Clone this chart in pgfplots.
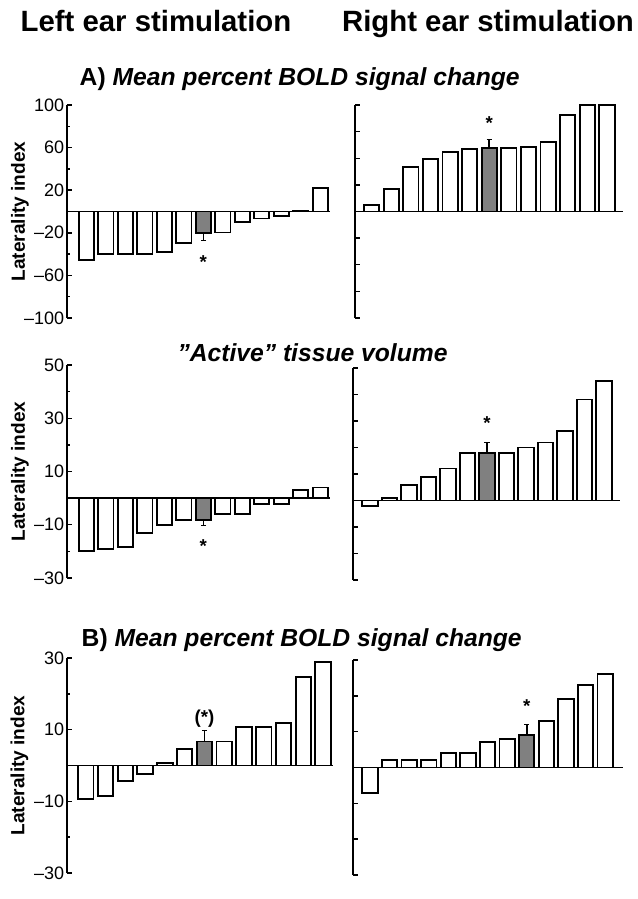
\documentclass[border=0pt]{standalone}
\usepackage{pgfplots}
\pgfplotsset{compat=1.18}
\usepackage{fontspec}
\setmainfont{Liberation Sans}
\definecolor{bargray}{HTML}{808080}

\pgfplotsset{
  lat/.style={
    scale only axis, anchor=south west,
    axis y line=left, axis x line=middle,
    axis line style={-, line width=1.4pt, black},
    x axis line style={line width=1.1pt},
    xtick=\empty,
    ybar, bar width=0.78, bar shift=0pt,
    tick align=inside, major tick length=4pt, minor tick length=2.5pt,
    tick style={black, line width=1.1pt},
    yticklabel style={font=\fontsize{13.5}{14}\selectfont, inner sep=2pt},
    every axis y label/.style={at={(axis description cs:-0.179,0.5)}, rotate=90,
      anchor=center, font=\bfseries\fontsize{14.3}{15}\selectfont},
    error bars/error bar style={line width=1.3pt, black},
    clip=false,
  },
  wbar/.style={draw=black, fill=white, line width=1.4pt},
  gbar/.style={draw=black, fill=bargray, line width=1.4pt},
}
\tikzset{star/.style={anchor=base, font=\bfseries\fontsize{14}{14}\selectfont}}

\begin{document}
\begin{tikzpicture}
\path[use as bounding box] (0,0) rectangle (478.5pt,-674.25pt);

\node[anchor=base, font=\bfseries\fontsize{22}{22}\selectfont] at (117pt,-23.8pt) {Left ear stimulation};
\node[anchor=base, font=\bfseries\fontsize{22}{22}\selectfont] at (366pt,-23.8pt) {Right ear stimulation};
\node[anchor=base west, font=\bfseries\fontsize{18.5}{18.5}\selectfont] at (56.25pt,-63.75pt) {A) \textit{Mean percent BOLD signal change}};
\node[anchor=base, font=\bfseries\itshape\fontsize{18.5}{18.5}\selectfont] at (234.4pt,-271.3pt) {\symbol{"22}Active\symbol{"22} tissue volume};
\node[anchor=base west, font=\bfseries\fontsize{18.5}{18.5}\selectfont] at (57.75pt,-485pt) {B) \textit{Mean percent BOLD signal change}};

% A) left ear
\begin{axis}[lat, at={(50.25pt,-238.5pt)}, width=197.25pt, height=159.75pt,
  xmin=0, xmax=13.5, ymin=-100, ymax=100,
  ytick={-100,-60,-20,20,60,100},
  yticklabels={\textendash100,\textendash60,\textendash20,20,60,100},
  minor ytick={-80,-40,0,40,80},
  ylabel={Laterality index}]
\addplot[wbar] coordinates {(1,-45.9) (2,-39.7) (3,-39.7) (4,-39.7) (5,-38.1) (6,-29.7)
  (8,-19.7) (9,-9.7) (10,-6.6) (11,-4.1) (12,0.9) (13,21.9)};
\addplot[gbar, error bars/.cd, y dir=minus, y explicit] coordinates {(7,-20.3) +- (0,6.9)};
\node[star] at (axis cs:7,-53.8) {*};
\end{axis}

% A) right ear
\begin{axis}[lat, at={(266.25pt,-238.5pt)}, width=201pt, height=159.75pt,
  xmin=0.15, xmax=13.82, ymin=-100, ymax=100,
  ytick={-100,-75,...,100}, yticklabels={}]
\addplot[wbar] coordinates {(1,5.9) (2,20.8) (3,41.6) (4,49.4) (5,55.6) (6,58.7)
  (8,59.3) (9,60.6) (10,65.5) (11,90.7) (12,100) (13,100)};
\addplot[gbar, error bars/.cd, y dir=plus, y explicit] coordinates {(7,59.6) +- (0,7.8)};
\node[star] at (axis cs:7,77.2) {*};
\end{axis}

% active volume left ear
\begin{axis}[lat, at={(50.25pt,-433.5pt)}, width=197.25pt, height=159.75pt,
  xmin=0, xmax=13.5, ymin=-30, ymax=50,
  ytick={-30,-10,10,30,50},
  yticklabels={\textendash30,\textendash10,10,30,50},
  minor ytick={-20,0,20,40},
  ylabel={Laterality index}]
\addplot[wbar] coordinates {(1,-20) (2,-19) (3,-18.2) (4,-13.1) (5,-10) (6,-8.1)
  (8,-5.9) (9,-5.9) (10,-2.1) (11,-2.1) (12,3) (13,4)};
\addplot[gbar, error bars/.cd, y dir=minus, y explicit] coordinates {(7,-8.1) +- (0,2.1)};
\node[star] at (axis cs:7,-20.5) {*};
\end{axis}

% active volume right ear
\begin{axis}[lat, at={(264.75pt,-435pt)}, width=200.25pt, height=159pt,
  xmin=0.13, xmax=13.82, ymin=-30, ymax=50,
  ytick={-30,-20,...,50}, yticklabels={}]
\addplot[wbar] coordinates {(1,-2.2) (2,1.1) (3,5.9) (4,9) (5,12.1) (6,18)
  (8,18) (9,20) (10,21.9) (11,26.1) (12,38.1) (13,45)};
\addplot[gbar, error bars/.cd, y dir=plus, y explicit] coordinates {(7,18) +- (0,4.1)};
\node[star] at (axis cs:7,26.9) {*};
\end{axis}

% B) left ear
\begin{axis}[lat, at={(50.25pt,-654.75pt)}, width=199.5pt, height=161.25pt,
  xmin=0.05, xmax=13.5, ymin=-30, ymax=30,
  ytick={-30,-10,10,30},
  yticklabels={\textendash30,\textendash10,10,30},
  minor ytick={-20,0,20},
  ylabel={Laterality index}]
\addplot[wbar] coordinates {(1,-9.4) (2,-8.5) (3,-4.4) (4,-2.3) (5,0.8) (6,4.7)
  (8,6.7) (9,10.8) (10,10.8) (11,11.8) (12,24.8) (13,28.8)};
\addplot[gbar, error bars/.cd, y dir=plus, y explicit] coordinates {(7,6.7) +- (0,3.1)};
\node[star] at (axis cs:7,11.6) {(*)};
\end{axis}

% B) right ear
\begin{axis}[lat, at={(264.75pt,-656.25pt)}, width=202.5pt, height=161.25pt,
  xmin=0.133, xmax=13.91, ymin=-30, ymax=30,
  ytick={-30,-20,...,30}, yticklabels={}]
\addplot[wbar] coordinates {(1,-7.1) (2,2) (3,2) (4,2) (5,4) (6,4) (7,7) (8,8)
  (10,13) (11,19) (12,23) (13,26)};
\addplot[gbar, error bars/.cd, y dir=plus, y explicit] coordinates {(9,9) +- (0,3.1)};
\node[star] at (axis cs:9,15.3) {*};
\end{axis}
\end{tikzpicture}
\end{document}
